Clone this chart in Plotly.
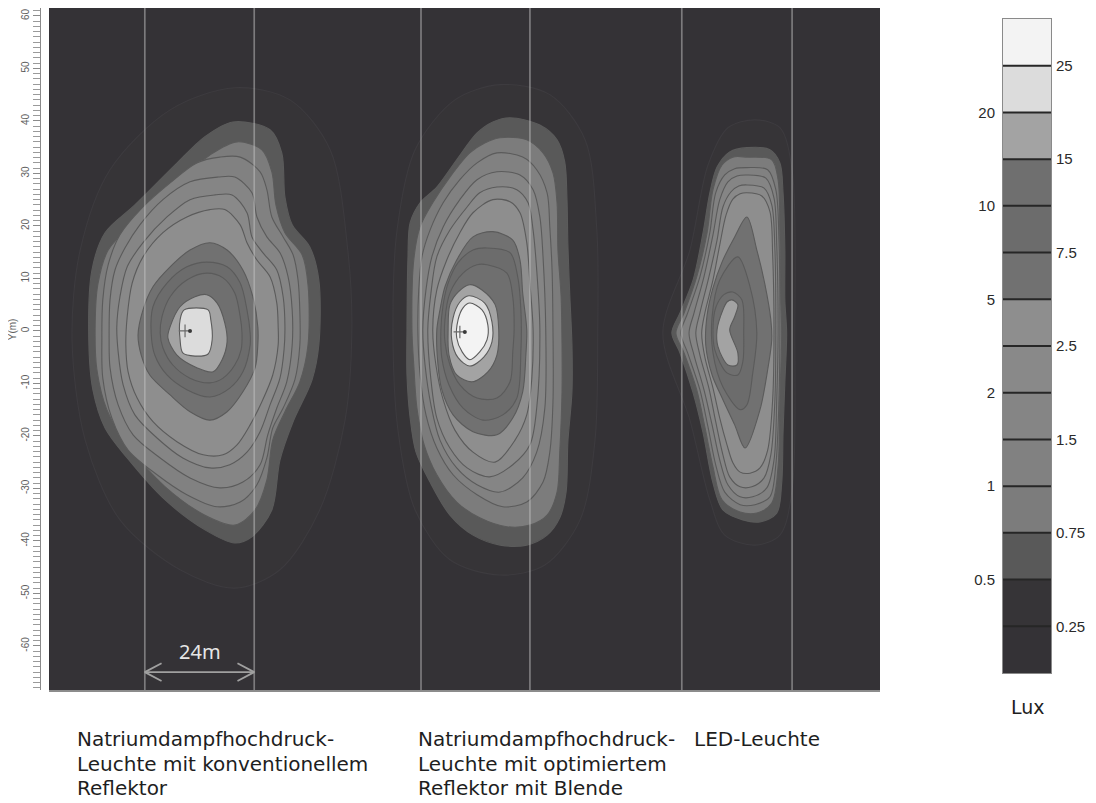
import plotly.graph_objects as go

# ---------------- data (metres, illuminance in lux) ----------------
y_tick_values = [-60, -50, -40, -30, -20, -10, 0, 10, 20, 30, 40, 50, 60]
y_tick_labels = ["-60", "-50", "-40", "-30", "-20", "-10", "Y(m)<br>0",
                 "10", "20", "30", "40", "50", "60"]
y_range = [-68.4, 61.5]
x_range = [0, 183.85]

road_edges_m = [21.2, 45.4, 82.3, 106.4, 140.0, 164.4]
span_label = "24m"
span_y = -65.0

band_lower = [0, 0.25, 0.5, 0.75, 1, 1.5, 2, 2.5, 5, 7.5, 10, 15, 20, 25]
band_colors = ["#343236", "#363437", "#595959", "#7c7c7c", "#818181", "#858585",
               "#898989", "#8e8e8e", "#717171", "#6c6c6c", "#6f6f6f", "#a3a3a3",
               "#dcdcdc", "#f3f3f3"]
legend_left = ["0.5", "1", "2", "5", "10", "20"]
legend_right = ["0.25", "0.75", "1.5", "2.5", "7.5", "15", "25"]
legend_unit = "Lux"

lamp_names = [["Natriumdampfhochdruck-", "Leuchte mit konventionellem", "Reflektor"],
              ["Natriumdampfhochdruck-", "Leuchte mit optimiertem", "Reflektor mit Blende"],
              ["LED-Leuchte"]]
lamp_marker_x = [30.1, 90.9]
lamp_marker_y = [0.0, -0.2]

# Lamp 1: sodium lamp, conventional reflector
lamp1_levels = [0.25, 0.5, 0.75, 1, 1.5, 2, 2.5, 5, 7.5, 10, 15, 20]
lamp1_x = [
    [41.1, 53.3, 62.2, 66.1, 67.0, 65.5, 59.9, 51.1, 41.1, 29.0, 15.7, 8.0, 5.1, 6.9, 13.5, 26.8],
    [40.7, 48.9, 51.5, 52.2, 53.8, 57.7, 59.7, 59.7, 58.2, 54.0, 51.1, 49.3, 44.9, 41.1, 34.5, 25.7,
     17.3, 12.4, 9.7, 8.8, 9.5, 12.4, 19.0, 27.9, 34.5],
    [41.6, 47.1, 49.3, 50.2, 52.2, 56.0, 57.3, 57.3, 55.5, 52.2, 49.5, 48.2, 45.6, 41.1, 34.5, 25.7,
     17.3, 12.8, 10.6, 10.2, 10.8, 13.1, 19.0, 28.3, 35.6],
    [42.3, 46.7, 48.2, 49.3, 51.8, 54.0, 55.1, 55.5, 55.5, 54.4, 51.8, 49.5, 48.2, 46.0, 42.3, 37.2,
     30.5, 23.9, 17.5, 13.9, 11.9, 11.7, 11.9, 13.1, 15.7, 20.8, 26.8, 32.7, 37.8],
    [41.1, 44.9, 46.0, 48.2, 51.1, 52.9, 53.8, 53.8, 52.6, 50.4, 48.4, 46.7, 42.9, 37.8, 31.2, 24.6,
     18.6, 15.3, 13.5, 13.3, 13.5, 14.6, 16.8, 20.1, 25.2, 31.2, 37.4],
    [40.5, 43.8, 44.9, 47.3, 50.4, 51.8, 52.2, 52.0, 51.1, 48.9, 46.7, 43.8, 40.0, 35.6, 29.6, 23.9,
     19.0, 16.4, 15.3, 15.0, 15.7, 17.3, 20.8, 26.1, 31.2, 36.7],
    [38.9, 42.3, 43.8, 46.0, 48.9, 50.4, 50.7, 50.7, 49.5, 47.1, 44.5, 41.6, 38.5, 34.1, 28.3, 23.0,
     19.5, 17.5, 17.0, 17.3, 18.4, 20.8, 25.2, 30.5, 35.6],
    [35.6, 39.4, 42.9, 45.1, 46.2, 46.2, 45.6, 42.9, 39.4, 35.6, 31.2, 26.8, 22.3, 20.4, 19.7, 20.8,
     23.0, 26.8, 31.2],
    [34.9, 39.4, 42.3, 43.8, 44.5, 44.5, 42.9, 40.0, 35.6, 30.5, 26.1, 23.4, 22.6, 23.0, 26.1, 30.5],
    [34.9, 38.5, 41.1, 42.3, 42.7, 42.5, 41.1, 38.5, 35.6, 31.2, 27.4, 25.2, 24.6, 25.0, 26.8, 30.5],
    [34.9, 37.2, 38.9, 39.4, 38.3, 36.3, 32.7, 28.3, 26.3, 26.8, 29.0, 32.3],
    [29.9, 35.2, 35.8, 36.1, 35.2, 32.3, 29.6, 29.0, 29.0],
]
lamp1_y = [
    [46.3, 44.0, 34.5, 15.4, 0.2, -17.0, -34.1, -45.5, -49.0, -45.5, -36.0, -20.8, -1.7, 15.4, 30.7, 42.1],
    [39.8, 38.3, 33.9, 25.5, 20.2, 16.0, 9.7, -2.7, -9.3, -17.3, -24.6, -34.1, -39.2, -40.4, -37.9, -32.2,
     -24.2, -18.5, -11.2, -1.7, 11.6, 18.7, 24.0, 31.6, 37.0],
    [36.0, 34.5, 30.3, 24.0, 18.7, 14.5, 8.8, -2.7, -9.7, -15.4, -20.8, -28.4, -34.1, -37.0, -35.1, -29.7,
     -21.7, -15.0, -7.4, 0.2, 8.8, 15.4, 20.8, 28.2, 33.5],
    [33.1, 30.3, 26.9, 21.7, 17.9, 14.5, 9.7, 3.6, -2.7, -9.3, -14.7, -18.5, -24.2, -29.3, -32.6, -33.5,
     -31.2, -27.4, -22.7, -16.6, -9.0, -1.7, 5.9, 12.6, 18.3, 23.6, 28.2, 32.0, 33.1],
    [29.3, 26.3, 21.7, 17.9, 14.9, 10.3, 4.0, -2.7, -9.7, -14.7, -19.8, -25.5, -28.8, -29.9, -28.0, -24.2,
     -19.8, -14.1, -7.0, -1.7, 5.9, 11.6, 15.8, 20.2, 25.0, 28.4, 29.3],
    [25.9, 22.5, 17.9, 14.9, 11.6, 6.5, 0.8, -3.6, -9.0, -14.1, -19.2, -23.1, -25.5, -26.1, -24.2, -20.4,
     -16.0, -10.3, -4.0, 0.8, 6.5, 12.2, 16.8, 21.7, 25.0, 25.9],
    [23.1, 20.2, 16.8, 13.5, 10.3, 5.3, 0.8, -2.7, -8.4, -13.5, -17.9, -21.7, -23.6, -23.6, -21.1, -17.3,
     -12.8, -7.8, -2.7, 2.7, 9.1, 14.1, 18.7, 21.7, 23.1],
    [16.8, 15.4, 11.6, 6.5, 0.8, -2.7, -7.0, -11.6, -15.4, -17.0, -15.4, -12.2, -8.4, -4.6, -0.8, 4.0,
     8.4, 12.2, 15.4],
    [13.1, 12.2, 9.1, 4.0, -0.4, -2.7, -7.8, -10.9, -12.6, -11.2, -8.4, -4.6, -0.4, 4.6, 9.1, 12.2],
    [11.0, 10.1, 7.2, 2.7, -0.4, -3.6, -6.5, -9.0, -9.9, -9.0, -6.5, -3.2, -0.4, 2.7, 6.5, 9.7],
    [6.9, 5.3, 1.5, -2.1, -5.5, -7.8, -7.0, -4.6, -1.3, 0.8, 4.6, 6.5],
    [4.0, 4.0, 2.1, -1.7, -4.4, -4.8, -4.2, -1.7, 2.1],
]

# Lamp 2: sodium lamp, optimised reflector with shield
lamp2_levels = [0.25, 0.5, 0.75, 1, 1.5, 2, 2.5, 5, 7.5, 10, 15, 20, 25]
lamp2_x = [
    [99.8, 110.8, 118.6, 121.2, 121.4, 120.8, 117.5, 109.7, 99.8, 88.7, 81.0, 77.2, 76.1, 77.0, 81.0, 89.8],
    [102.0, 108.6, 112.4, 114.1, 114.6, 114.8, 115.2, 115.7, 115.7, 114.8, 114.4, 113.0, 110.2, 105.7,
     99.8, 93.8, 88.7, 84.3, 81.2, 79.9, 79.2, 79.2, 79.4, 79.9, 82.1, 85.8, 90.2, 94.7, 98.2],
    [99.8, 105.7, 109.3, 111.5, 112.4, 112.6, 113.3, 113.5, 113.5, 113.0, 112.4, 110.2, 106.4, 101.3,
     95.3, 90.2, 85.8, 83.0, 81.4, 80.7, 80.3, 80.7, 82.1, 84.9, 88.7, 93.1, 96.4],
    [99.1, 104.8, 107.9, 110.2, 110.8, 111.3, 111.5, 111.5, 110.8, 109.3, 105.7, 100.4, 94.7, 89.4,
     85.8, 83.4, 82.1, 81.6, 81.8, 82.5, 84.3, 87.2, 90.9, 94.7],
    [99.1, 104.2, 107.1, 108.6, 109.3, 109.9, 109.7, 107.9, 104.8, 99.8, 94.7, 90.2, 86.5, 84.5, 83.2,
     82.7, 83.4, 84.7, 87.2, 90.9, 94.7],
    [99.1, 103.5, 106.0, 107.1, 107.9, 108.6, 107.9, 106.4, 102.6, 97.5, 92.5, 88.7, 85.8, 84.5, 83.8,
     84.5, 85.8, 88.7, 92.5, 95.3],
    [98.2, 102.0, 104.2, 105.7, 106.4, 107.1, 106.8, 105.7, 103.1, 98.7, 93.8, 89.8, 87.2, 85.6, 84.9,
     85.8, 88.0, 90.9, 93.8],
    [98.2, 102.6, 104.2, 104.8, 105.7, 105.5, 104.8, 102.6, 99.1, 93.8, 89.4, 86.9, 86.0, 85.8, 86.5,
     87.6, 90.2, 93.8],
    [96.9, 102.0, 103.7, 104.4, 104.4, 103.5, 100.4, 96.0, 91.6, 88.5, 86.9, 86.7, 87.2, 88.3, 90.5, 93.8],
    [96.9, 101.3, 102.6, 102.9, 102.6, 102.0, 99.1, 94.7, 90.9, 88.7, 87.6, 87.6, 88.7, 91.6, 94.7],
    [93.1, 95.8, 98.7, 99.5, 99.1, 97.1, 93.6, 90.2, 88.5, 88.3, 88.7, 90.5],
    [92.9, 96.4, 98.0, 98.0, 96.2, 93.1, 90.5, 89.1, 89.4, 90.9],
    [93.1, 95.8, 97.1, 96.9, 95.3, 93.1, 91.4, 90.2, 90.5, 91.6],
]
lamp2_y = [
    [46.9, 45.0, 36.4, 19.2, 0.2, -20.8, -36.0, -44.6, -46.5, -43.6, -34.1, -18.9, 0.2, 19.2, 34.5, 44.0],
    [40.6, 39.2, 36.4, 32.2, 25.0, 16.4, 7.2, -2.7, -11.6, -21.1, -30.7, -35.6, -38.9, -40.8, -40.8,
     -38.9, -35.1, -28.8, -23.1, -16.6, -8.4, 0.2, 13.5, 20.6, 24.4, 27.4, 32.6, 37.7, 39.8],
    [36.8, 36.4, 33.9, 30.1, 24.4, 15.4, 6.5, -2.7, -11.6, -23.1, -30.7, -35.1, -37.0, -37.3, -35.6,
     -32.6, -27.4, -21.7, -14.7, -6.5, 0.2, 13.5, 19.8, 24.4, 29.3, 33.9, 35.8],
    [33.9, 33.1, 30.7, 26.3, 19.8, 11.6, 0.2, -13.5, -23.1, -28.8, -32.6, -33.5, -31.2, -27.4, -22.3,
     -16.0, -8.4, 0.2, 7.8, 14.1, 19.2, 24.4, 28.8, 32.0],
    [30.3, 29.7, 26.9, 21.7, 14.1, 0.2, -14.7, -23.1, -28.0, -30.7, -29.3, -26.1, -20.8, -14.1, -6.5,
     0.2, 7.8, 14.1, 19.8, 25.0, 28.8],
    [27.4, 26.9, 24.4, 19.2, 11.6, 0.2, -14.7, -21.7, -25.5, -27.8, -26.1, -22.3, -16.6, -9.3, 0.2,
     7.2, 14.1, 19.2, 23.6, 26.3],
    [25.0, 24.6, 22.5, 16.8, 9.1, 0.2, -9.3, -16.0, -20.8, -25.0, -23.1, -18.9, -13.1, -6.5, 0.2,
     7.8, 13.5, 18.7, 22.5],
    [18.9, 17.3, 13.5, 7.2, 0.2, -4.6, -11.6, -16.6, -19.8, -19.2, -16.0, -11.2, -5.9, 0.2, 4.0,
     8.4, 13.5, 17.9],
    [15.8, 14.9, 10.3, 4.0, -4.0, -12.8, -16.0, -17.0, -14.7, -10.3, -5.1, 0.2, 5.0, 9.1, 13.0, 15.4],
    [12.6, 11.0, 6.5, 0.2, -4.0, -9.7, -12.8, -12.8, -10.3, -6.5, -2.1, 2.1, 7.2, 11.0, 12.6],
    [8.8, 7.8, 5.0, 0.2, -4.6, -7.8, -9.7, -8.4, -4.6, 0.2, 5.0, 7.4],
    [6.7, 5.3, 1.7, -2.1, -5.0, -6.7, -5.1, -1.7, 2.5, 5.5],
    [5.3, 4.0, 1.1, -1.7, -4.0, -5.5, -4.0, -1.3, 2.1, 4.4],
]

# Lamp 3: LED luminaire
lamp3_levels = [0.25, 0.5, 0.75, 1, 1.5, 2, 2.5, 5, 7.5, 10, 15]
lamp3_x = [
    [156.2, 161.7, 164.4, 165.0, 164.4, 161.7, 156.2, 149.5, 146.2, 141.8, 135.8, 141.8, 145.8, 150.2],
    [154.4, 159.5, 161.7, 162.4, 162.8, 162.8, 163.2, 162.8, 162.4, 162.1, 161.0, 157.3, 153.5, 149.1,
     146.9, 144.7, 142.5, 139.6, 137.8, 139.6, 142.5, 144.7, 146.2, 147.8, 150.6],
    [154.4, 159.9, 161.3, 161.7, 161.9, 162.1, 161.7, 161.3, 159.9, 156.6, 152.9, 148.9, 146.9, 145.1,
     143.3, 140.5, 138.7, 140.5, 143.3, 145.6, 146.9, 148.9, 151.3],
    [154.4, 159.0, 160.8, 161.5, 161.7, 161.5, 160.8, 159.5, 156.2, 152.9, 149.5, 147.5, 145.8, 144.0,
     141.3, 139.8, 141.3, 144.0, 146.2, 147.5, 149.5, 151.7],
    [154.4, 158.6, 160.4, 161.0, 161.3, 161.0, 160.4, 158.8, 155.7, 152.9, 150.2, 148.4, 146.7, 144.9,
     142.7, 141.6, 142.7, 144.9, 146.9, 148.4, 150.2, 152.2],
    [154.4, 158.2, 159.9, 160.6, 160.8, 160.6, 159.7, 158.2, 155.5, 152.9, 150.6, 149.1, 147.5, 146.0,
     144.0, 143.1, 144.0, 146.0, 147.8, 149.1, 150.9, 152.6],
    [154.4, 157.7, 159.5, 160.1, 160.4, 160.1, 159.0, 157.3, 155.1, 152.9, 151.3, 150.0, 148.4, 146.9,
     145.1, 144.4, 145.1, 146.9, 148.4, 149.8, 151.3, 152.9],
    [154.4, 156.6, 158.4, 159.7, 159.9, 159.0, 157.3, 154.0, 151.7, 149.1, 146.7, 145.3, 145.6, 146.9,
     148.9, 151.7],
    [152.4, 155.1, 156.6, 155.7, 154.4, 152.9, 149.1, 146.9, 146.7, 148.4],
    [151.3, 153.3, 153.7, 153.5, 152.4, 150.0, 147.3, 146.9, 147.5, 149.3],
    [151.1, 152.4, 151.7, 150.6, 152.4, 152.2, 150.2, 148.0, 147.8, 149.1, 150.0],
]
lamp3_y = [
    [40.2, 38.7, 30.7, -0.4, -30.3, -38.9, -40.8, -38.9, -32.2, -17.0, -0.4, 15.4, 31.6, 38.7],
    [34.9, 34.5, 32.0, 26.3, 15.4, 5.9, -0.4, -9.9, -19.4, -29.0, -34.7, -36.4, -36.0, -34.1, -29.0,
     -19.4, -11.8, -4.2, -0.4, 3.4, 9.7, 18.7, 26.3, 31.2, 34.1],
    [33.1, 32.6, 28.8, 18.7, 5.9, -0.4, -13.1, -25.9, -32.8, -34.7, -34.5, -32.2, -25.9, -18.3, -11.2,
     -4.2, -0.4, 3.4, 10.3, 18.7, 26.9, 31.6, 33.1],
    [31.1, 30.7, 26.9, 17.3, -0.4, -13.1, -25.5, -31.6, -33.1, -33.1, -30.7, -25.5, -18.3, -11.2, -4.2,
     -0.4, 3.4, 10.3, 18.7, 26.3, 29.7, 30.9],
    [29.7, 29.1, 25.3, 16.4, -0.4, -13.1, -24.6, -29.9, -31.6, -31.6, -29.3, -24.6, -17.9, -11.2, -4.6,
     -0.4, 3.4, 10.3, 18.3, 25.0, 28.4, 29.5],
    [27.8, 27.2, 24.0, 15.4, -0.4, -13.1, -23.6, -28.0, -29.7, -29.7, -27.8, -23.6, -17.3, -10.9, -4.6,
     -0.4, 3.4, 10.3, 17.3, 23.6, 26.5, 27.6],
    [26.3, 25.7, 22.7, 14.5, -0.4, -13.1, -22.7, -26.1, -27.1, -26.9, -25.1, -21.7, -16.6, -10.9, -5.0,
     -0.4, 3.4, 9.7, 16.4, 22.1, 25.1, 26.1],
    [21.7, 15.4, 8.8, 2.1, -1.7, -7.4, -15.0, -22.3, -17.9, -13.1, -8.4, -2.7, 3.0, 8.2, 13.1, 17.9],
    [14.1, 8.4, -0.4, -8.0, -14.1, -15.0, -10.7, -4.2, 2.7, 9.7],
    [7.4, 5.9, -0.4, -5.9, -8.4, -8.0, -3.6, 0.2, 4.4, 6.9],
    [5.9, 5.0, 2.7, 0.2, -4.2, -6.5, -6.5, -3.0, 0.2, 4.0, 5.5],
]

# ---------------- page geometry (browser body has an 8 px margin) ----------------
W, H, OFF = 1088, 795, 8


def px(xp):
    return min(1.0, max(0.0, (xp - OFF) / W))


def py(yp):
    return min(1.0, max(0.0, 1 - (yp - OFF) / H))


BG = "#343236"
CONTOUR_LINE = "#5b5b5b"
FAINT_LINE = "#3d3b3f"
ROAD_LINE = "rgba(195,195,195,0.5)"
TEXT_FONT = "DejaVu Sans"
NUM_FONT = "Liberation Sans"

fig = go.Figure()

lamps = [(lamp1_levels, lamp1_x, lamp1_y),
         (lamp2_levels, lamp2_x, lamp2_y),
         (lamp3_levels, lamp3_x, lamp3_y)]
for levels, xs, ys in lamps:
    for lev, cx, cy in zip(levels, xs, ys):
        fill_col = band_colors[band_lower.index(lev)]
        lc = FAINT_LINE if lev == 0.25 else CONTOUR_LINE
        fig.add_trace(go.Scatter(
            x=list(cx) + [cx[0]], y=list(cy) + [cy[0]],
            mode="lines", fill="toself", fillcolor=fill_col,
            line=dict(color=lc, width=1.1, shape="spline", smoothing=0.9),
            hoverinfo="skip", showlegend=False, xaxis="x", yaxis="y"))

# lamp position markers
fig.add_trace(go.Scatter(x=lamp_marker_x, y=lamp_marker_y, mode="markers",
                         marker=dict(symbol="cross-thin", size=9,
                                     line=dict(color="#6a6a6a", width=1.2)),
                         hoverinfo="skip", showlegend=False))
fig.add_trace(go.Scatter(x=[v + 1.1 for v in lamp_marker_x], y=lamp_marker_y, mode="markers",
                         marker=dict(symbol="circle", size=4, color="#3a3a3a"),
                         hoverinfo="skip", showlegend=False))

# road edge lines
for xe in road_edges_m:
    fig.add_trace(go.Scatter(x=[xe, xe], y=y_range, mode="lines",
                             line=dict(color=ROAD_LINE, width=1.7),
                             hoverinfo="skip", showlegend=False))

# 24 m dimension arrow
x0, x1 = road_edges_m[0], road_edges_m[1]
hx, hy = 3.7, 1.7
fig.add_trace(go.Scatter(
    x=[x0, x1, None, x0 + hx, x0, x0 + hx, None, x1 - hx, x1, x1 - hx],
    y=[span_y, span_y, None, span_y + hy, span_y, span_y - hy, None, span_y + hy, span_y, span_y - hy],
    mode="lines", line=dict(color="#a0a0a0", width=1.8),
    hoverinfo="skip", showlegend=False))
fig.add_annotation(x=(x0 + x1) / 2, y=span_y + 1.0, text=span_label, showarrow=False,
                   yanchor="bottom", xref="x", yref="y",
                   font=dict(family="Noto Sans", size=20, color="#e6e6e6"))

# ---------------- legend bar ----------------
n = len(band_lower)
fig.add_trace(go.Bar(x=[0] * n, y=[1] * n, base=list(range(n)), width=1,
                     marker=dict(color=band_colors, line=dict(width=0)),
                     hoverinfo="skip", showlegend=False, xaxis="x2", yaxis="y2"))
sx, sy = [], []
for k in range(1, n):
    sx += [-0.5, 0.5, None]
    sy += [k, k, None]
fig.add_trace(go.Scatter(x=sx, y=sy, mode="lines", line=dict(color="#262626", width=2),
                         hoverinfo="skip", showlegend=False, xaxis="x2", yaxis="y2"))
fig.add_trace(go.Scatter(x=[0], y=[0.5], mode="markers", marker=dict(opacity=0),
                         hoverinfo="skip", showlegend=False, xaxis="x2", yaxis="y3"))

fig.add_annotation(x=px(1028), y=py(707), xref="paper", yref="paper",
                   text=legend_unit, showarrow=False, xanchor="center", yanchor="middle",
                   font=dict(family=TEXT_FONT, size=19, color="#1e1e1e"))

label_x = [75, 416, 692]
line_y = [739, 763.5, 788]
for lines, lx in zip(lamp_names, label_x):
    for t, ly in zip(lines, line_y):
        fig.add_annotation(x=px(lx), y=py(ly), xref="paper", yref="paper", text=t,
                           showarrow=False, xanchor="left", yanchor="middle", align="left",
                           font=dict(family=TEXT_FONT, size=20, color="#1e1e1e"))

fig.update_layout(
    width=W, height=H, margin=dict(l=0, r=0, t=0, b=0),
    paper_bgcolor="white", plot_bgcolor=BG, showlegend=False, barmode="overlay",
    xaxis=dict(domain=[px(49), px(880)], range=x_range, showticklabels=False,
               ticks="", showgrid=False, zeroline=False, showline=True,
               linecolor="#8c8c8c", linewidth=1.5, anchor="y"),
    yaxis=dict(domain=[py(690), py(8)], range=y_range, anchor="free",
               position=px(40), tickmode="array", tickvals=y_tick_values,
               ticktext=y_tick_labels, tickangle=-90, ticks="outside", ticklen=7,
               tickwidth=1, tickcolor="#8a8a8a",
               minor=dict(tickmode="linear", tick0=0, dtick=1, ticks="outside",
                          ticklen=7, tickwidth=1, tickcolor="#9a9a9a"),
               showline=True, linecolor="#8a8a8a", linewidth=1, showgrid=False,
               zeroline=False, tickfont=dict(family=NUM_FONT, size=10, color="#5e5e5e")),
    xaxis2=dict(domain=[px(1003), px(1051)], range=[-0.5, 0.5], anchor="y2",
                showticklabels=False, ticks="", showgrid=False, zeroline=False,
                showline=True, mirror=True, linecolor="#8a8a8a", linewidth=1),
    yaxis2=dict(domain=[py(673), py(19)], range=[0, n], anchor="x2",
                side="left", tickmode="array", tickvals=[2, 4, 6, 8, 10, 12],
                ticktext=legend_left, ticks="", showgrid=False, zeroline=False,
                showline=True, mirror=True, linecolor="#8a8a8a", linewidth=1,
                ticklabelstandoff=4,
                tickfont=dict(family=NUM_FONT, size=15, color="#2a2a2a")),
    yaxis3=dict(overlaying="y2", anchor="x2", side="right", range=[0, n],
                tickmode="array", tickvals=[1, 3, 5, 7, 9, 11, 13], ticktext=legend_right,
                ticks="", showgrid=False, zeroline=False, showline=False,
                ticklabelstandoff=4,
                tickfont=dict(family=NUM_FONT, size=15, color="#2a2a2a")),
)

fig.write_html("out.html")
